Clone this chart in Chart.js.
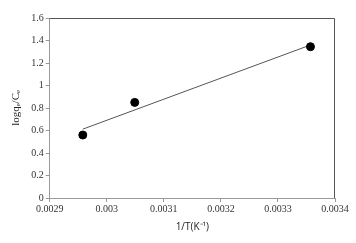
<!DOCTYPE html>
<html>
<head>
<meta charset="utf-8">
<script src="https://cdn.jsdelivr.net/npm/chart.js@4/dist/chart.umd.min.js"></script>
<style>
  html, body { margin: 0; padding: 0; background: #fff; }
  #wrap { width: 356px; height: 243px; }
</style>
</head>
<body>
<div id="wrap"><canvas id="chart-canvas"></canvas></div>
<script>
// measured points (1/T, log qe/Ce)
var invT = [0.002958, 0.003049, 0.003357];
var logQC = [0.56, 0.85, 1.345];

// linear trend line end points
var trendX = [0.002958, 0.003357];
var trendY = [0.612, 1.36];

var serif = "'Liberation Serif', 'Times New Roman', serif";

// top and right frame of the plot area
var frame = {
    id: 'frame',
    afterDraw: function (chart) {
        var a = chart.chartArea;
        var ctx = chart.ctx;
        ctx.save();
        ctx.strokeStyle = '#555';
        ctx.lineWidth = 1;
        ctx.beginPath();
        ctx.moveTo(a.left, a.top + 0.5);
        ctx.lineTo(a.right - 0.5, a.top + 0.5);
        ctx.lineTo(a.right - 0.5, a.bottom);
        ctx.stroke();
        ctx.restore();
    }
};

var config = {
    type: 'scatter',
    data: {
        datasets: [{
            label: 'data',
            data: invT.map(function (x, i) { return { x: x, y: logQC[i] }; }),
            backgroundColor: '#000',
            borderColor: '#000',
            pointRadius: 4,
            pointHoverRadius: 4
        }, {
            label: 'trend',
            type: 'line',
            data: trendX.map(function (x, i) { return { x: x, y: trendY[i] }; }),
            borderColor: '#555',
            borderWidth: 1,
            pointRadius: 0,
            fill: false
        }]
    },
    options: {
        responsive: true,
        maintainAspectRatio: false,
        animation: false,
        layout: { padding: { left: 6, right: 21, top: 18, bottom: 10 } },
        plugins: {
            legend: { display: false },
            tooltip: { enabled: false }
        },
        scales: {
            x: {
                type: 'linear',
                min: 0.0029,
                max: 0.0034,
                grid: { drawOnChartArea: false, tickLength: 4, color: '#999' },
                border: { color: '#999' },
                ticks: {
                    stepSize: 0.0001,
                    color: '#333',
                    font: { family: serif, size: 10 },
                    padding: 1,
                    maxRotation: 0,
                    callback: function (v) { return +v.toFixed(4); }
                },
                title: {
                    display: true,
                    text: '1/T(K\u207B\u00B9)',
                    color: '#222',
                    font: { family: "'Open Sans', sans-serif", size: 10 },
                    padding: { top: 5, bottom: 0 }
                }
            },
            y: {
                min: 0,
                max: 1.6,
                grid: { drawOnChartArea: false, tickLength: 4, color: '#999' },
                border: { color: '#999' },
                ticks: {
                    stepSize: 0.2,
                    color: '#333',
                    font: { family: serif, size: 10 },
                    padding: 2,
                    callback: function (v) { return +v.toFixed(1); }
                },
                title: {
                    display: true,
                    text: 'logq\u2091/C\u2091',
                    color: '#222',
                    font: { family: serif, size: 11 },
                    padding: { bottom: 6 }
                }
            }
        }
    },
    plugins: [frame]
};

var ctx = document.getElementById('chart-canvas').getContext('2d');
window.myChart = new Chart(ctx, config);
</script>
</body>
</html>
